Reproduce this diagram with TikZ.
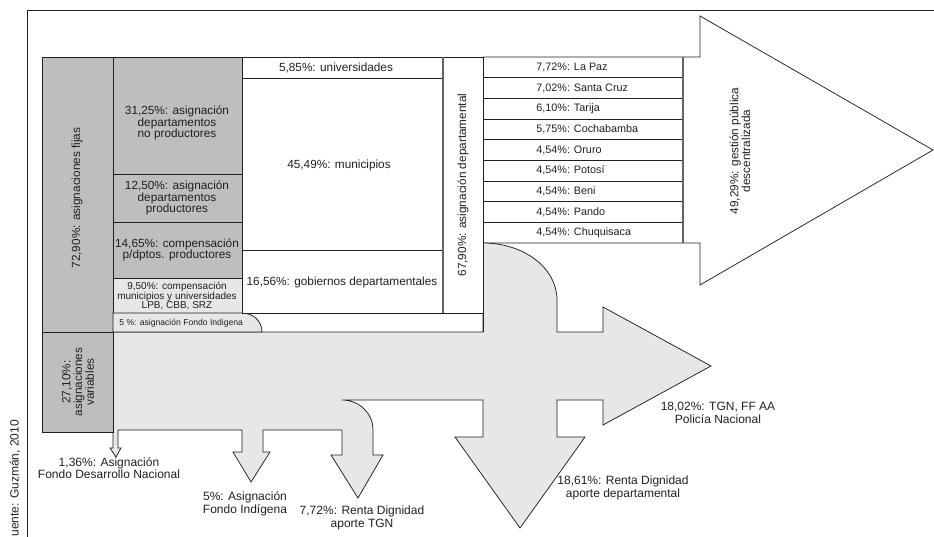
\documentclass[tikz,border=0pt]{standalone}
\usepackage{fontspec}
\setmainfont{Liberation Sans}
\definecolor{dk}{HTML}{BCBEC0}
\definecolor{lt}{HTML}{E6E7E8}
\definecolor{ln}{HTML}{231F20}
\begin{document}
\begin{tikzpicture}[x=1pt,y=-1pt,line width=0.75pt,line join=miter,
  lbl/.style={font=\fontsize{11.8}{11.7}\selectfont,text=ln,align=center,inner sep=0pt},
  sm/.style={font=\fontsize{10}{9.7}\selectfont,text=ln,align=center,inner sep=0pt},
  tiny/.style={font=\fontsize{8.6}{9}\selectfont,text=ln,inner sep=0pt},
  dep/.style={font=\fontsize{10.8}{11}\selectfont,text=ln,anchor=west,inner sep=0pt},
  bot/.style={font=\fontsize{12}{12.5}\selectfont,text=ln,align=center,inner sep=0pt},
  darkbox/.style={draw=ln,fill=dk},
  lightbox/.style={draw=ln,fill=lt},
  whitebox/.style={draw=ln,fill=white}]
\useasboundingbox (0,0) rectangle (934,537);
% frame
\draw[ln] (934,10) -- (27,10) -- (27,537);
% white arrow
\draw[whitebox] (483,57) -- (700,57) -- (700,16) -- (933,150) -- (700,285) -- (700,243) -- (483,243) -- cycle;
% department rows
\foreach \k in {1,...,8} { \draw[ln] (483,{57+\k*20.667}) -- (683,{57+\k*20.667}); }
\draw[ln!70,line width=1.2pt] (683,57) -- (683,243);
% big gray flow
\draw[lightbox] (113,332) -- (483,332) -- (483,243)
  .. controls (524,243) and (557,268) .. (557,300) -- (557,332)
  -- (603,332) -- (603,307) -- (711,366) -- (603,425) -- (603,400)
  -- (557,400) -- (557,437) -- (585,437) -- (520,528) -- (455,437) -- (483,437) -- (483,400)
  -- (342,400) .. controls (359,400) and (373,413) .. (373,430)
  -- (373,455) -- (383,455) -- (358,498) -- (331,455) -- (342,455) -- (342,430)
  -- (263,430) -- (263,452) -- (270,452) -- (251,482) -- (233,452) -- (242,452) -- (242,430)
  -- (118,430) -- (118,448) -- (121,448) -- (116,457) -- (110,448) -- (113,448) -- cycle;
% left column
\draw[darkbox] (42,57) rectangle (113,332);
\draw[darkbox] (42,332) rectangle (113,432);
% second column
\draw[darkbox] (113,57) rectangle (242,174);
\draw[darkbox] (113,174) rectangle (242,222);
\draw[darkbox] (113,222) rectangle (242,278);
\draw[lightbox] (113,278) rectangle (242,313);
\draw[lightbox] (113,313) -- (242,313) .. controls (253,313) and (262,321) .. (262,332) -- (113,332) -- cycle;
% third column
\draw[whitebox] (242,57) rectangle (443,78);
\draw[whitebox] (242,78) rectangle (443,250);
\draw[whitebox] (242,250) rectangle (443,313);
\draw[whitebox] (443,57) rectangle (483,313);
\draw[ln!70,line width=1.2pt] (443,57) -- (443,313);
\draw[ln] (262,313) -- (483,313) -- (483,332);
% texts
\node[lbl,rotate=90] (fijas) at (77,198) {72,90\%: asignaciones fijas};
\node[lbl,rotate=90] (variables) at (78,382) {27,10\%:\\asignaciones\\variables};
\node[lbl] (noprod) at (177,123) {31,25\%: asignación\\departamentos\\no productores};
\node[lbl] (prod) at (177,198) {12,50\%: asignación\\departamentos\\productores};
\node[lbl] (comp) at (177,250) {14,65\%: compensación\\p/dptos. productores};
\node[sm] (compmun) at (177,296) {9,50\%: compensación\\municipios y universidades\\LPB, CBB, SRZ};
\node[tiny,anchor=west] (indig) at (119,323) {5 \%: asignación Fondo Indigena};
\node[lbl] (univ) at (336,68) {5,85\%: universidades};
\node[lbl] (munic) at (339,165) {45,49\%: municipios};
\node[lbl] (gob) at (342,282) {16,56\%: gobiernos departamentales};
\node[lbl,rotate=90] (asigdep) at (463,185) {67,90\%: asignación departamental};
\node[dep] (d1) at (536,67.3) {7,72\%: La Paz};
\node[dep] (d2) at (536,88.0) {7,02\%: Santa Cruz};
\node[dep] (d3) at (536,108.7) {6,10\%: Tarija};
\node[dep] (d4) at (536,129.3) {5,75\%: Cochabamba};
\node[dep] (d5) at (536,150.0) {4,54\%: Oruro};
\node[dep] (d6) at (536,170.7) {4,54\%: Potosí};
\node[dep] (d7) at (536,191.3) {4,54\%: Beni};
\node[dep] (d8) at (536,212.0) {4,54\%: Pando};
\node[dep] (d9) at (536,232.7) {4,54\%: Chuquisaca};
\node[lbl,rotate=90] (gestion) at (740,151) {49,29\%: gestión pública\\descentralizada};
\node[bot] (tgn) at (718,413) {18,02\%: TGN, FF AA\\Policía Nacional};
\node[bot] (rdd) at (623,488) {18,61\%: Renta Dignidad\\aporte departamental};
\node[bot] (rdt) at (362,518) {7,72\%: Renta Dignidad\\aporte TGN};
\node[bot] (fi) at (245,504) {5\%: Asignación\\Fondo Indígena};
\node[bot] (fdn) at (109,468) {1,36\%: Asignación\\Fondo Desarrollo Nacional};
\node[font=\fontsize{12}{12}\selectfont,text=ln,rotate=90,anchor=west,inner sep=0pt] (src) at (15,537) {uente: Guzmán, 2010};
\end{tikzpicture}
\end{document}
